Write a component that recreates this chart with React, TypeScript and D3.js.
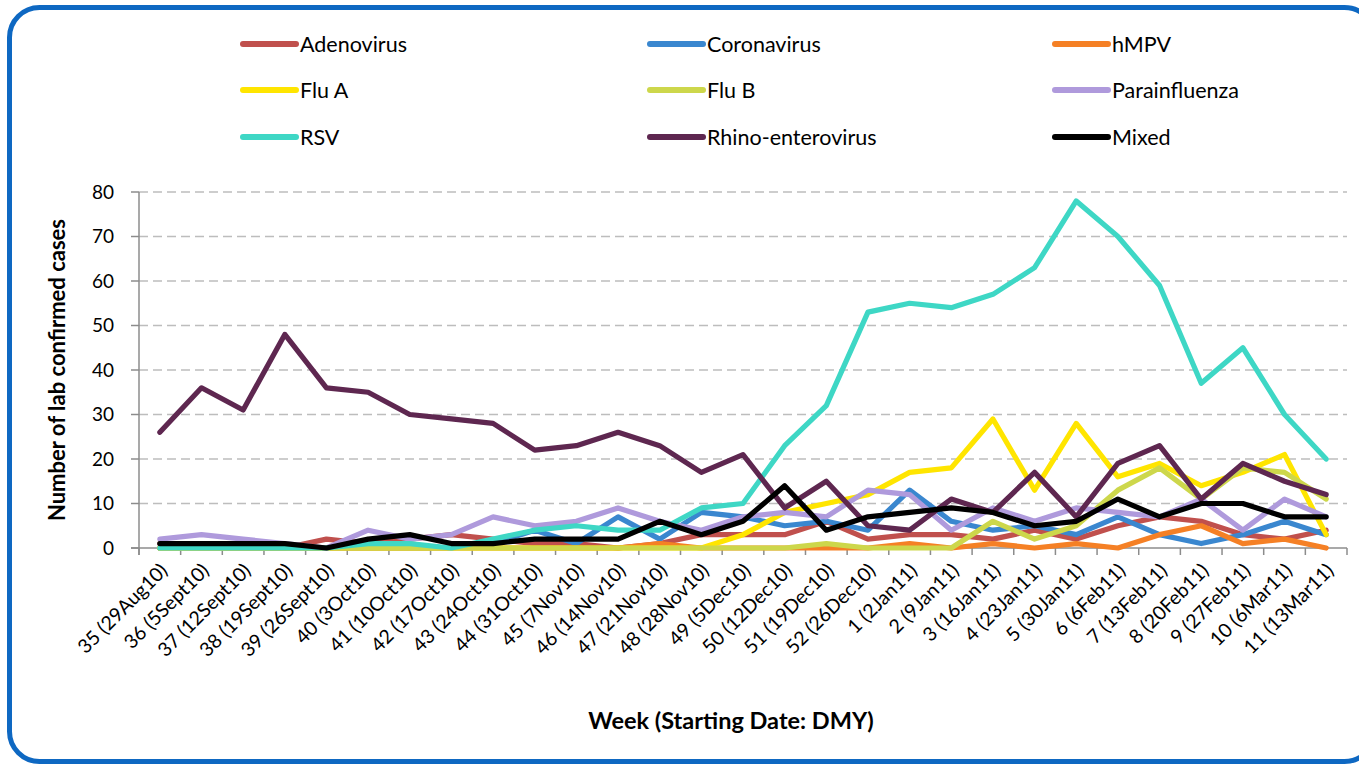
import React from "react";
import * as d3 from "d3";

const categories = [
  "35 (29Aug10)", "36 (5Sept10)", "37 (12Sept10)", "38 (19Sept10)", "39 (26Sept10)",
  "40 (3Oct10)", "41 (10Oct10)", "42 (17Oct10)", "43 (24Oct10)", "44 (31Oct10)",
  "45 (7Nov10)", "46 (14Nov10)", "47 (21Nov10)", "48 (28Nov10)", "49 (5Dec10)",
  "50 (12Dec10)", "51 (19Dec10)", "52 (26Dec10)", "1 (2Jan11)", "2 (9Jan11)",
  "3 (16Jan11)", "4 (23Jan11)", "5 (30Jan11)", "6 (6Feb11)", "7 (13Feb11)",
  "8 (20Feb11)", "9 (27Feb11)", "10 (6Mar11)", "11 (13Mar11)",
];

const adenovirus = [1, 0, 0, 0, 2, 1, 2, 3, 2, 1, 1, 0, 1, 3, 3, 3, 6, 2, 3, 3, 2, 4, 2, 5, 7, 6, 3, 2, 4];
const coronavirus = [0, 0, 0, 0, 0, 0, 0, 0, 1, 4, 1, 7, 2, 8, 7, 5, 6, 4, 13, 6, 4, 5, 3, 7, 3, 1, 3, 6, 3];
const hmpv = [0, 0, 0, 0, 0, 0, 0, 0, 0, 0, 0, 0, 1, 0, 0, 0, 0, 0, 1, 0, 1, 0, 1, 0, 3, 5, 1, 2, 0];
const fluA = [0, 0, 0, 0, 0, 0, 0, 0, 0, 0, 0, 0, 0, 0, 3, 8, 10, 12, 17, 18, 29, 13, 28, 16, 19, 14, 17, 21, 3];
const fluB = [0, 0, 0, 0, 0, 0, 0, 0, 0, 0, 0, 0, 0, 0, 0, 0, 1, 0, 0, 0, 6, 2, 5, 13, 18, 11, 18, 17, 11];
const parainfluenza = [2, 3, 2, 1, 0, 4, 2, 3, 7, 5, 6, 9, 6, 4, 7, 8, 7, 13, 12, 4, 9, 6, 9, 8, 7, 11, 4, 11, 7];
const rsv = [0, 0, 0, 0, 0, 1, 1, 0, 2, 4, 5, 4, 4, 9, 10, 23, 32, 53, 55, 54, 57, 63, 78, 70, 59, 37, 45, 30, 20];
const rhino = [26, 36, 31, 48, 36, 35, 30, 29, 28, 22, 23, 26, 23, 17, 21, 9, 15, 5, 4, 11, 8, 17, 7, 19, 23, 11, 19, 15, 12];
const mixed = [1, 1, 1, 1, 0, 2, 3, 1, 1, 2, 2, 2, 6, 3, 6, 14, 4, 7, 8, 9, 8, 5, 6, 11, 7, 10, 10, 7, 7];

const seriesNames = ["Adenovirus", "Coronavirus", "hMPV", "Flu A", "Flu B", "Parainfluenza", "RSV", "Rhino-enterovirus", "Mixed"];
const seriesValues = [adenovirus, coronavirus, hmpv, fluA, fluB, parainfluenza, rsv, rhino, mixed];
const seriesColors = ["#C0504D", "#3A87CF", "#F58025", "#FFE500", "#CDD74B", "#AF9ADC", "#3ED7C5", "#5E2750", "#000000"];

const yTicks = [0, 10, 20, 30, 40, 50, 60, 70, 80];

const FONT = "Lato, 'Open Sans', sans-serif";

export default function App() {
  const W = 1359;
  const H = 767;
  const left = 139;
  const right = 1347;
  const top = 192;
  const bottom = 548;

  const x = d3.scaleBand<string>().domain(categories).range([left, right]).paddingInner(0).paddingOuter(0);
  const bw = x.bandwidth();
  const cx = (i: number) => (x(categories[i]) as number) + bw / 2;
  const y = d3.scaleLinear().domain([0, 80]).range([bottom, top]);

  const line = d3
    .line<number>()
    .x((_, i) => cx(i))
    .y((d) => y(d));

  const boundaries = d3.range(categories.length + 1).map((k) => left + k * bw);

  const legendCols = [243, 650, 1055];
  const legendRows = [44, 90, 137];

  return (
    <svg
      width={W}
      height={H}
      style={{ position: "absolute", left: 0, top: 0, background: "#fff" }}
      fontFamily={FONT}
    >
      <rect x={0} y={0} width={W} height={H} fill="#fff" />
      <rect x={9.5} y={7.5} width={1365} height={754} rx={30} ry={30} fill="none" stroke="#0E68C2" strokeWidth={5} />

      {/* gridlines */}
      {yTicks.filter((t) => t > 0).map((t) => (
        <line key={t} x1={left} x2={right} y1={y(t)} y2={y(t)} stroke="#BDBDBD" strokeWidth={1.5} strokeDasharray="9,5" />
      ))}

      {/* y axis */}
      <line x1={left} x2={left} y1={top} y2={bottom + 7} stroke="#8C8C8C" strokeWidth={1.5} />
      {yTicks.map((t) => (
        <g key={t}>
          <line x1={left - 8} x2={left} y1={y(t)} y2={y(t)} stroke="#8C8C8C" strokeWidth={1.5} />
          <text x={114} y={y(t)} dy="0.35em" textAnchor="end" fontSize={19} fill="#000">
            {t}
          </text>
        </g>
      ))}

      {/* x axis */}
      <line x1={left - 8} x2={right} y1={bottom} y2={bottom} stroke="#8C8C8C" strokeWidth={1.5} />
      {boundaries.map((b, k) => (
        <line key={k} x1={b} x2={b} y1={bottom} y2={bottom + 7} stroke="#8C8C8C" strokeWidth={1.5} />
      ))}
      {categories.map((c, i) => (
        <text
          key={c}
          transform={`translate(${cx(i) + 4},${bottom + 19}) rotate(-45)`}
          textAnchor="end"
          dy="0.35em"
          fontSize={19.5}
          fill="#000"
        >
          {c}
        </text>
      ))}

      {/* series */}
      {seriesValues.map((vals, si) => (
        <path
          key={seriesNames[si]}
          d={line(vals) as string}
          fill="none"
          stroke={seriesColors[si]}
          strokeWidth={5.2}
          strokeLinejoin="round"
          strokeLinecap="round"
        />
      ))}

      {/* axis titles */}
      <text
        transform={`translate(65,${(top + bottom) / 2}) rotate(-90)`}
        textAnchor="middle"
        fontSize={22}
        fontWeight="bold"
        fill="#000"
      >
        Number of lab confirmed cases
      </text>
      <text x={731} y={729} textAnchor="middle" fontSize={23.5} fontWeight="bold" fill="#000">
        Week (Starting Date: DMY)
      </text>

      {/* legend */}
      {seriesNames.map((name, si) => {
        const col = si % 3;
        const row = Math.floor(si / 3);
        const lx = legendCols[col];
        const ly = legendRows[row];
        return (
          <g key={name}>
            <line x1={lx} x2={lx + 53} y1={ly} y2={ly} stroke={seriesColors[si]} strokeWidth={6} strokeLinecap="round" />
            <text x={lx + 57} y={ly} dy="0.35em" fontSize={21.5} fill="#000">
              {name}
            </text>
          </g>
        );
      })}
    </svg>
  );
}
